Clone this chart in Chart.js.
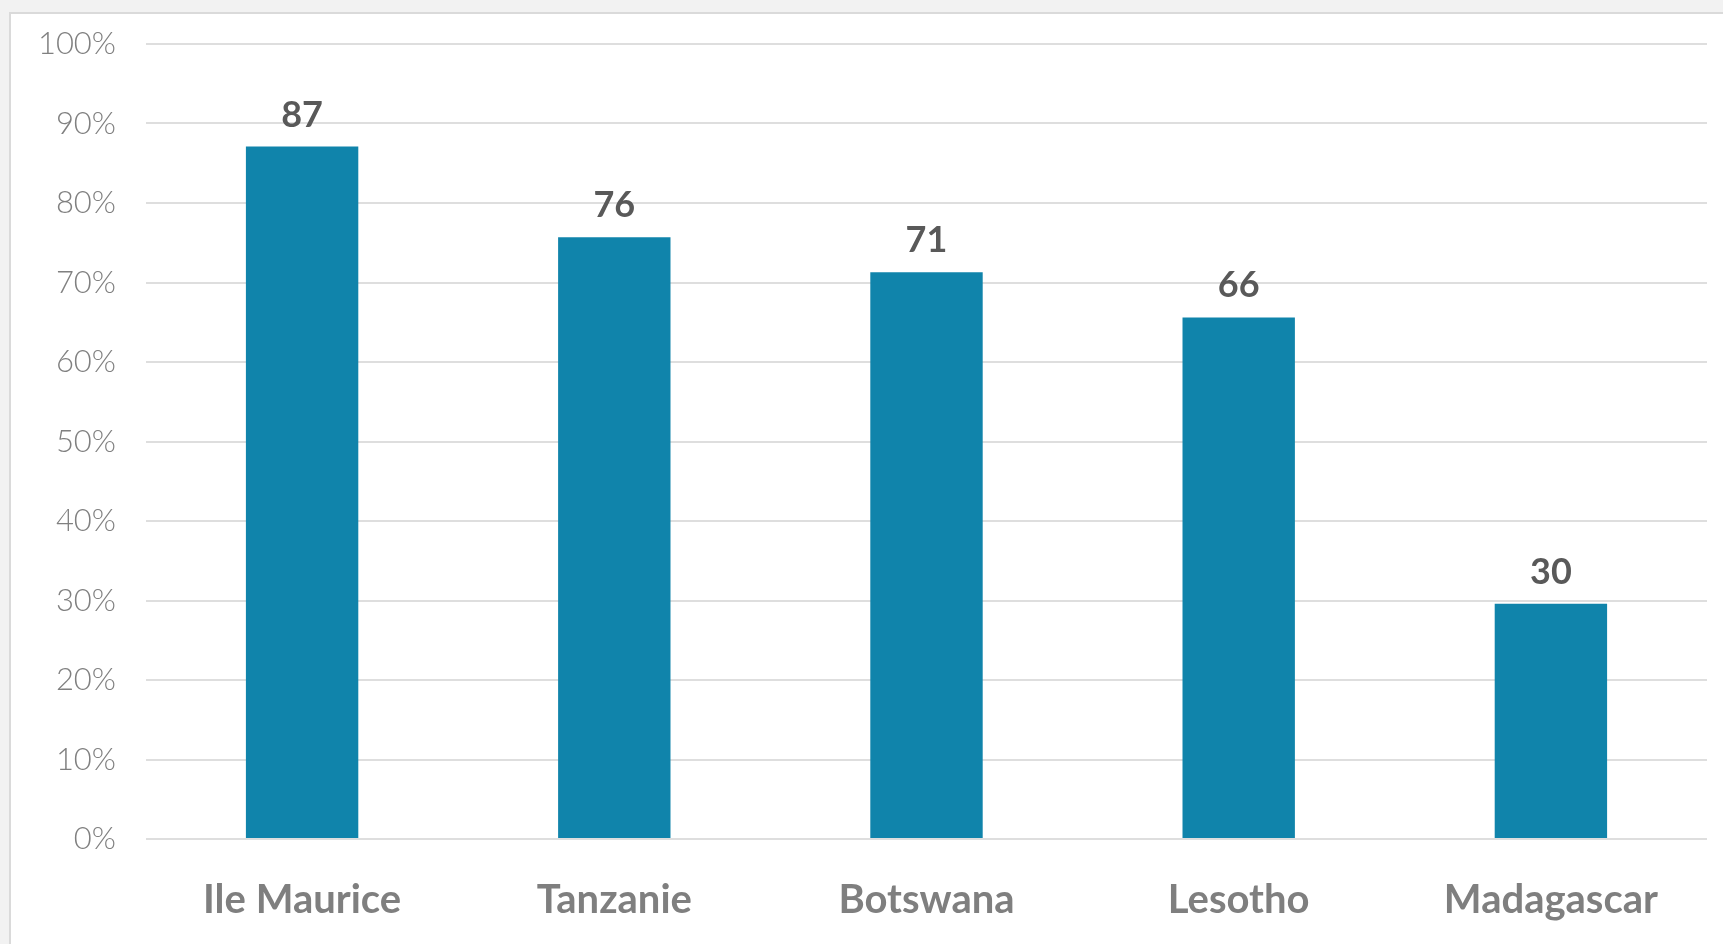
<!DOCTYPE html>
<html>
<head>
<meta charset="utf-8">
<script src="https://cdn.jsdelivr.net/npm/chart.js@4"></script>
<style>
  html, body { margin: 0; padding: 0; background: #f2f2f2; overflow: hidden; }
  .panel {
    position: absolute; left: 9px; top: 12px; width: 1730px; height: 950px;
    background: #fff; border: 2px solid #dadada; box-sizing: border-box;
  }
  .wrap { position: absolute; left: 0; top: 0; width: 1723px; height: 944px; }
</style>
</head>
<body>
<div class="panel"></div>
<div class="wrap"><canvas id="chart"></canvas></div>
<script>
const countries = ['Ile Maurice', 'Tanzanie', 'Botswana', 'Lesotho', 'Madagascar']
const values = [87.1, 75.7, 71.3, 65.6, 29.6]
const yTicks = [0, 10, 20, 30, 40, 50, 60, 70, 80, 90, 100]

// value labels above each bar
const barLabels = {
  id: 'barLabels',
  afterDatasetsDraw(chart) {
    const ctx = chart.ctx
    const meta = chart.getDatasetMeta(0)
    ctx.save()
    ctx.font = 'bold 36px Lato, "DejaVu Sans", sans-serif'
    ctx.fillStyle = '#595959'
    ctx.textAlign = 'center'
    ctx.textBaseline = 'alphabetic'
    meta.data.forEach((bar, i) => {
      ctx.fillText(Math.round(values[i]), bar.x, bar.y - 20)
    })
    ctx.restore()
  }
}

const chart = document.getElementById('chart')

new Chart(chart, {
  type: 'bar',
  data: {
    labels: countries,
    datasets: [{
      data: values,
      backgroundColor: '#1084ab',
      borderWidth: 0,
      barPercentage: 0.36,
      categoryPercentage: 1
    }]
  },
  options: {
    responsive: true,
    maintainAspectRatio: false,
    animation: false,
    layout: { padding: { left: 0, top: 44, right: 16, bottom: 0 } },
    plugins: {
      legend: { display: false },
      tooltip: { enabled: false }
    },
    scales: {
      x: {
        grid: { display: false },
        border: { display: false },
        ticks: {
          color: '#7f7f7f',
          padding: 29,
          font: { family: 'Lato, "DejaVu Sans", sans-serif', size: 40, weight: 'bold' }
        },
        afterFit(scale) { scale.height = 105 }
      },
      y: {
        min: 0,
        max: 100,
        afterBuildTicks(scale) { scale.ticks = yTicks.map(v => ({ value: v })) },
        grid: { color: '#dedede', lineWidth: 2, drawTicks: false },
        border: { display: false },
        ticks: {
          color: '#808080',
          padding: 30,
          font: { family: 'Lato, "DejaVu Sans", sans-serif', size: 31, weight: 300, lineHeight: 0.4 },
          callback: v => v + '%'
        },
        afterFit(scale) { scale.width = 146 }
      }
    }
  },
  plugins: [barLabels]
})
</script>
</body>
</html>
